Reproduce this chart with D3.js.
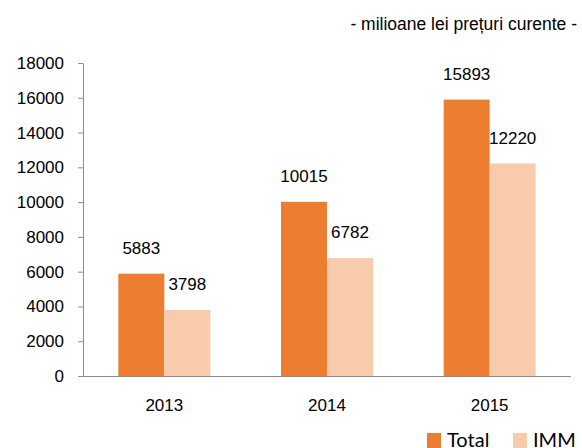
<!DOCTYPE html>
<html lang="en">
    <head>
        <meta charset="utf-8">
        <title>IMM chart</title>
        <script src="https://d3js.org/d3.v7.min.js"></script>
        <style>
            body { margin: 0; background: #fff; }
            .lbl { font-family: "Liberation Sans", Arial, sans-serif; }
        </style>
    </head>
    <body>
        <div class="chart"></div>
        <script type="text/javascript">
            // data
            const years = ['2013', '2014', '2015'];
            const series = ['Total', 'IMM'];
            const totalValues = [5883, 10015, 15893];
            const immValues = [3798, 6782, 12220];
            const yTicks = [0, 2000, 4000, 6000, 8000, 10000, 12000, 14000, 16000, 18000];
            const colors = ['#ED7D31', '#F8CBAD'];

            const width = 582;
            const height = 448;
            const plotLeft = 83, plotRight = 571, plotTop = 63, plotBottom = 376;

            const svg = d3.select('.chart')
                .append('svg')
                .attr('width', width)
                .attr('height', height);

            const y = d3.scaleLinear().domain([0, 18000]).range([plotBottom, plotTop]);
            const x0 = d3.scaleBand().domain(years).range([plotLeft, plotRight]);
            const x1 = d3.scaleBand().domain(series).range([0, 92]);

            // title
            svg.append('text')
                .attr('class', 'lbl')
                .attr('x', 577)
                .attr('y', 30)
                .attr('text-anchor', 'end')
                .attr('font-size', 17.5)
                .attr('fill', '#000')
                .text('- milioane lei prețuri curente -');

            // y axis
            const yAxis = svg.append('g')
                .attr('transform', `translate(${plotLeft},0)`)
                .call(d3.axisLeft(y).tickValues(yTicks).tickFormat(d3.format('d'))
                    .tickSize(5).tickSizeOuter(0).tickPadding(14));
            yAxis.select('.domain').attr('stroke', '#8c8c8c');
            yAxis.selectAll('.tick line').attr('stroke', '#8c8c8c');
            yAxis.attr('font-family', null);
            yAxis.selectAll('.tick text')
                .attr('class', 'lbl')
                .attr('font-size', 17)
                .attr('fill', '#000');

            const rows = years.map((yr, i) => ({year: yr, values: [totalValues[i], immValues[i]]}));

            const groups = svg.selectAll('g.year')
                .data(rows)
                .enter()
                .append('g')
                .attr('class', 'year')
                .attr('transform', d => `translate(${x0(d.year) + x0.bandwidth() / 2 - 46},0)`);

            groups.selectAll('rect')
                .data(d => d.values.map((v, j) => ({key: series[j], value: v, color: colors[j]})))
                .enter()
                .append('rect')
                .attr('x', d => x1(d.key))
                .attr('width', x1.bandwidth())
                .attr('y', d => y(d.value))
                .attr('height', d => plotBottom - y(d.value))
                .attr('fill', d => d.color);

            groups.selectAll('text')
                .data(d => d.values.map((v, j) => ({key: series[j], value: v})))
                .enter()
                .append('text')
                .attr('class', 'lbl')
                .attr('x', d => x1(d.key) + x1.bandwidth() / 2)
                .attr('y', d => y(d.value) - 20)
                .attr('text-anchor', 'middle')
                .attr('font-size', 17)
                .text(d => d.value);

            // x axis
            svg.append('line')
                .attr('x1', plotLeft - 5)
                .attr('x2', plotRight)
                .attr('y1', plotBottom + 0.5)
                .attr('y2', plotBottom + 0.5)
                .attr('stroke', '#8c8c8c');

            svg.selectAll('text.xlab')
                .data(years)
                .enter()
                .append('text')
                .attr('class', 'xlab lbl')
                .attr('x', d => x0(d) + x0.bandwidth() / 2)
                .attr('y', 411)
                .attr('text-anchor', 'middle')
                .attr('font-size', 17)
                .text(d => d);

            // legend, sits on the bottom edge like the original
            const legendX = [427, 513];
            const legend = svg.selectAll('g.legend')
                .data(series)
                .enter()
                .append('g')
                .attr('class', 'legend');
            legend.append('rect')
                .attr('x', (d, i) => legendX[i])
                .attr('y', 433)
                .attr('width', 14)
                .attr('height', 15)
                .attr('fill', (d, i) => colors[i]);
            legend.append('text')
                .attr('x', (d, i) => legendX[i] + 20)
                .attr('y', 447)
                .attr('font-family', 'Lato, "Open Sans", sans-serif')
                .attr('font-size', 20)
                .attr('fill', '#000')
                .text(d => d);
        </script>
    </body>
</html>
